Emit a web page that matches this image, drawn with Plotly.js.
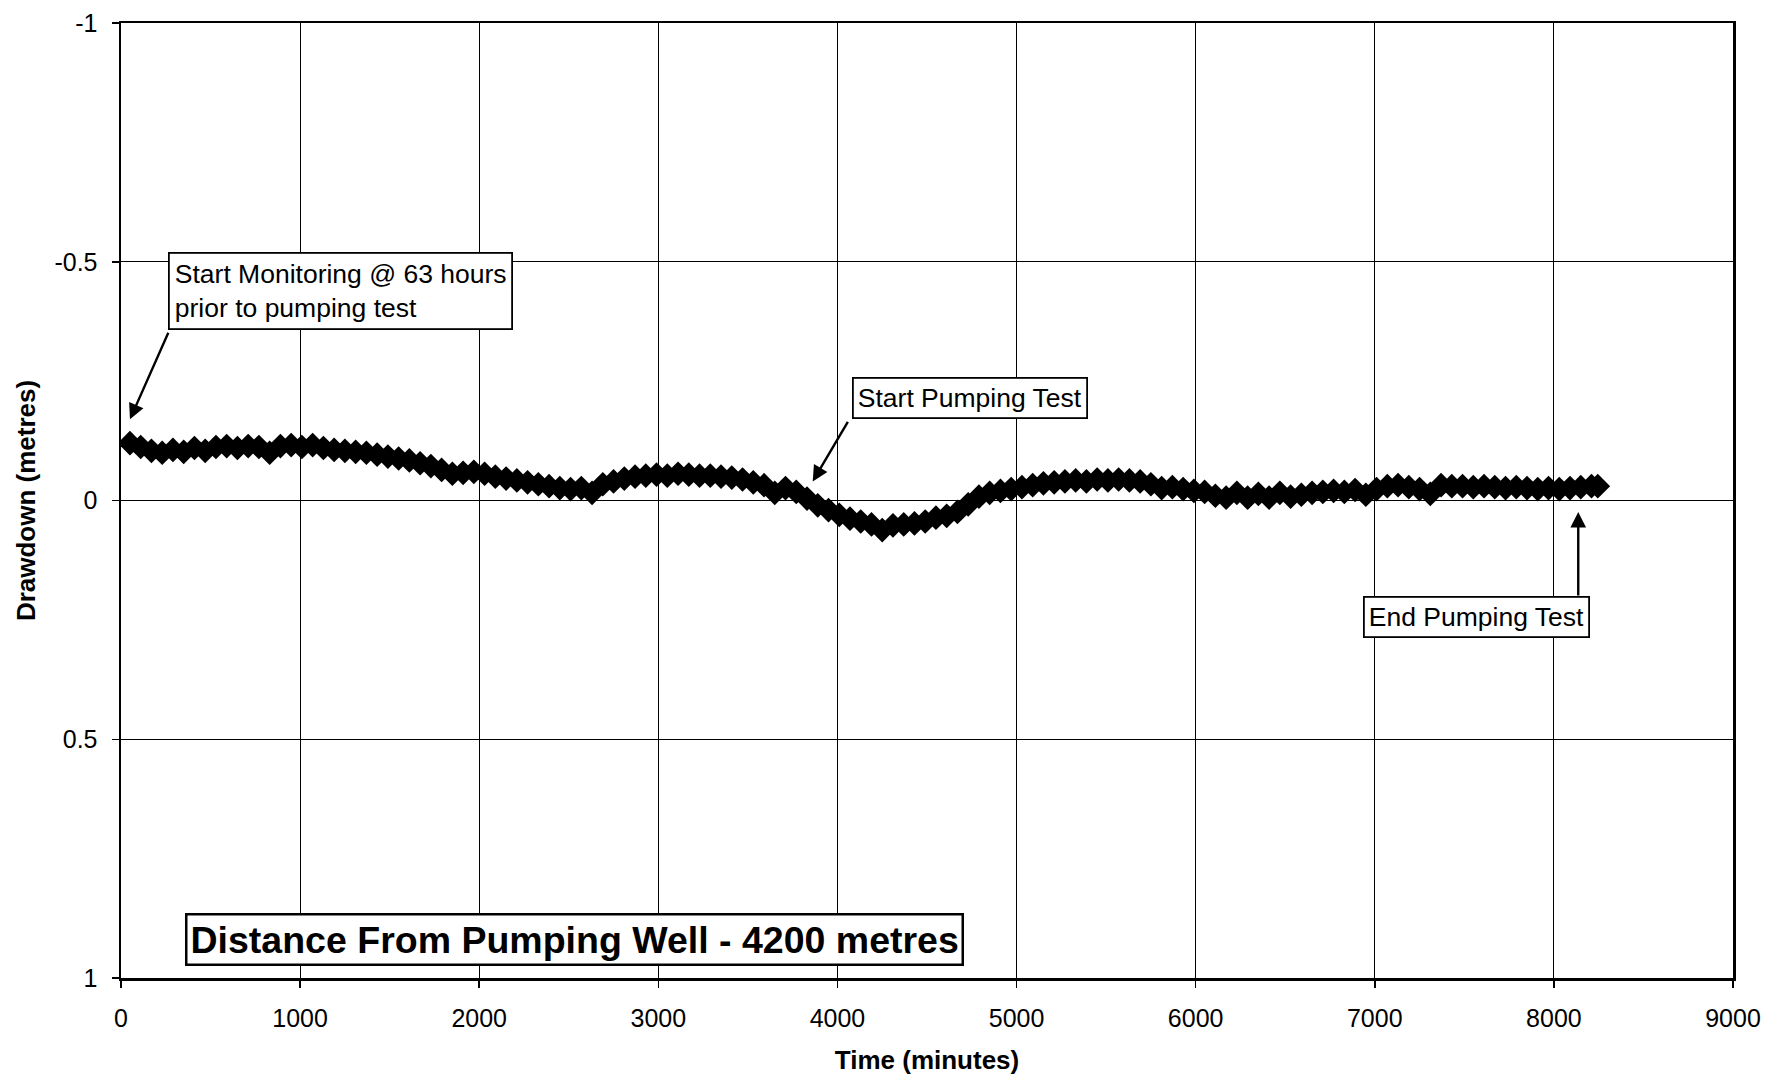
<!DOCTYPE html>
<html>
<head>
<meta charset="utf-8">
<script src="https://cdn.plot.ly/plotly-3.0.1.min.js"></script>
<style>
html,body{margin:0;padding:0;background:#fff;}
#chart{width:1771px;height:1076px;}
</style>
</head>
<body>
<div id="chart"></div>
<script>
// Time since start of monitoring (minutes)
const timeMinutes = [
  50,110,170,230,290,350,410,470,530,590,
  650,710,770,830,890,950,1010,1070,1130,1190,
  1250,1310,1370,1430,1490,1550,1610,1670,1730,1790,
  1850,1910,1970,2030,2090,2150,2210,2270,2330,2390,
  2450,2510,2570,2630,2690,2750,2810,2870,2930,2990,
  3050,3110,3170,3230,3290,3350,3410,3470,3530,3590,
  3650,3710,3770,3830,3890,3950,4010,4070,4130,4190,
  4250,4310,4370,4430,4490,4550,4610,4670,4730,4790,
  4850,4910,4970,5030,5090,5150,5210,5270,5330,5390,
  5450,5510,5570,5630,5690,5750,5810,5870,5930,5990,
  6050,6110,6170,6230,6290,6350,6410,6470,6530,6590,
  6650,6710,6770,6830,6890,6950,7010,7070,7130,7190,
  7250,7310,7370,7430,7490,7550,7610,7670,7730,7790,
  7850,7910,7970,8030,8090,8150,8210,8245
];
// Drawdown (metres)
const drawdown = [
  -0.120,-0.112,-0.104,-0.100,-0.106,-0.102,-0.110,-0.104,-0.112,-0.114,
  -0.110,-0.114,-0.112,-0.100,-0.114,-0.116,-0.112,-0.116,-0.110,-0.106,
  -0.104,-0.102,-0.100,-0.096,-0.092,-0.088,-0.084,-0.078,-0.072,-0.064,
  -0.056,-0.058,-0.060,-0.056,-0.050,-0.046,-0.042,-0.038,-0.034,-0.030,
  -0.026,-0.024,-0.026,-0.016,-0.034,-0.040,-0.046,-0.050,-0.052,-0.054,
  -0.052,-0.056,-0.054,-0.052,-0.052,-0.050,-0.048,-0.044,-0.038,-0.032,
  -0.016,-0.026,-0.018,-0.004,0.010,0.020,0.030,0.038,0.044,0.050,
  0.062,0.052,0.050,0.048,0.044,0.036,0.032,0.024,0.008,-0.008,
  -0.016,-0.020,-0.024,-0.028,-0.032,-0.036,-0.038,-0.040,-0.042,-0.040,
  -0.044,-0.042,-0.044,-0.042,-0.040,-0.034,-0.026,-0.028,-0.024,-0.020,
  -0.018,-0.010,-0.006,-0.016,-0.006,-0.014,-0.006,-0.016,-0.008,-0.012,
  -0.016,-0.018,-0.020,-0.018,-0.022,-0.012,-0.024,-0.030,-0.032,-0.028,
  -0.024,-0.014,-0.032,-0.030,-0.030,-0.028,-0.030,-0.028,-0.026,-0.028,
  -0.026,-0.024,-0.026,-0.024,-0.026,-0.028,-0.030,-0.030
];

const xTickVals = [0,1000,2000,3000,4000,5000,6000,7000,8000,9000];
const xTickText = ["0","1000","2000","3000","4000","5000","6000","7000","8000","9000"];
const yTickVals = [-1,-0.5,0,0.5,1];
const yTickText = ["-1","-0.5","0","0.5","1"];

const FONT = "Liberation Sans, Arial, sans-serif";

const trace = {
  x: timeMinutes,
  y: drawdown,
  type: "scatter",
  mode: "markers",
  marker: {symbol: "diamond", size: 19, color: "#000", line: {width: 0}},
  hoverinfo: "x+y"
};

const boxAnn = (text, x, y, size, bold, bw, pad) => ({
  x: x, y: y, xref: "x", yref: "y",
  text: bold ? "<b>" + text + "</b>" : text,
  showarrow: false,
  align: "left",
  font: {family: FONT, size: size, color: "#000"},
  bgcolor: "#fff",
  bordercolor: "#000",
  borderwidth: bw || 1.8,
  borderpad: pad || 5
});

const arrowAnn = (x, y, ax, ay) => ({
  x: x, y: y, xref: "x", yref: "y",
  text: "", showarrow: true,
  ax: ax, ay: ay,
  arrowhead: 2, arrowsize: 1.3, arrowwidth: 2.4, arrowcolor: "#000",
  standoff: 0, startstandoff: 0
});

const layout = {
  width: 1771, height: 1076,
  margin: {l: 121, r: 38, t: 23, b: 98},
  paper_bgcolor: "#fff",
  plot_bgcolor: "#fff",
  showlegend: false,
  font: {family: FONT, color: "#000"},
  xaxis: {
    range: [0, 9000],
    tickvals: xTickVals, ticktext: xTickText,
    ticks: "outside", ticklen: 7, tickwidth: 1.5, tickcolor: "#000",
    tickfont: {family: FONT, size: 25, color: "#000"},
    ticklabelstandoff: 9,
    showgrid: true, gridcolor: "#000", gridwidth: 1,
    showline: true, linecolor: "#000", linewidth: 2.5, mirror: true,
    zeroline: false,
    title: {text: "<b>Time (minutes)</b>", font: {family: FONT, size: 26, color: "#000"}, standoff: 21}
  },
  yaxis: {
    range: [1, -1],
    tickvals: yTickVals, ticktext: yTickText,
    ticks: "outside", ticklen: 7, tickwidth: 1.5, tickcolor: "#000",
    tickfont: {family: FONT, size: 25, color: "#000"},
    ticklabelstandoff: 9,
    showgrid: true, gridcolor: "#000", gridwidth: 1,
    showline: true, linecolor: "#000", linewidth: 2.5, mirror: true,
    zeroline: false,
    title: {text: "<b>Drawdown (metres)</b>", font: {family: FONT, size: 26, color: "#000"}, standoff: 12}
  },
  annotations: [
    arrowAnn(50, -0.170, 39, -88),
    boxAnn("Start Monitoring @ 63 hours<br>prior to pumping test", 1228, -0.438, 26.5, false, 1.8, 5),
    arrowAnn(3862, -0.040, 36, -61),
    boxAnn("Start Pumping Test", 4738, -0.214, 26.5, false, 1.8, 4),
    arrowAnn(8136, 0.024, 0, 85),
    boxAnn("End Pumping Test", 7570, 0.243, 26.5, false, 1.8, 4),
    boxAnn("Distance From Pumping Well - 4200 metres", 2530, 0.920, 37.5, true, 2.5, 3)
  ]
};

Plotly.newPlot("chart", [trace], layout, {displayModeBar: false, staticPlot: true});
</script>
</body>
</html>
